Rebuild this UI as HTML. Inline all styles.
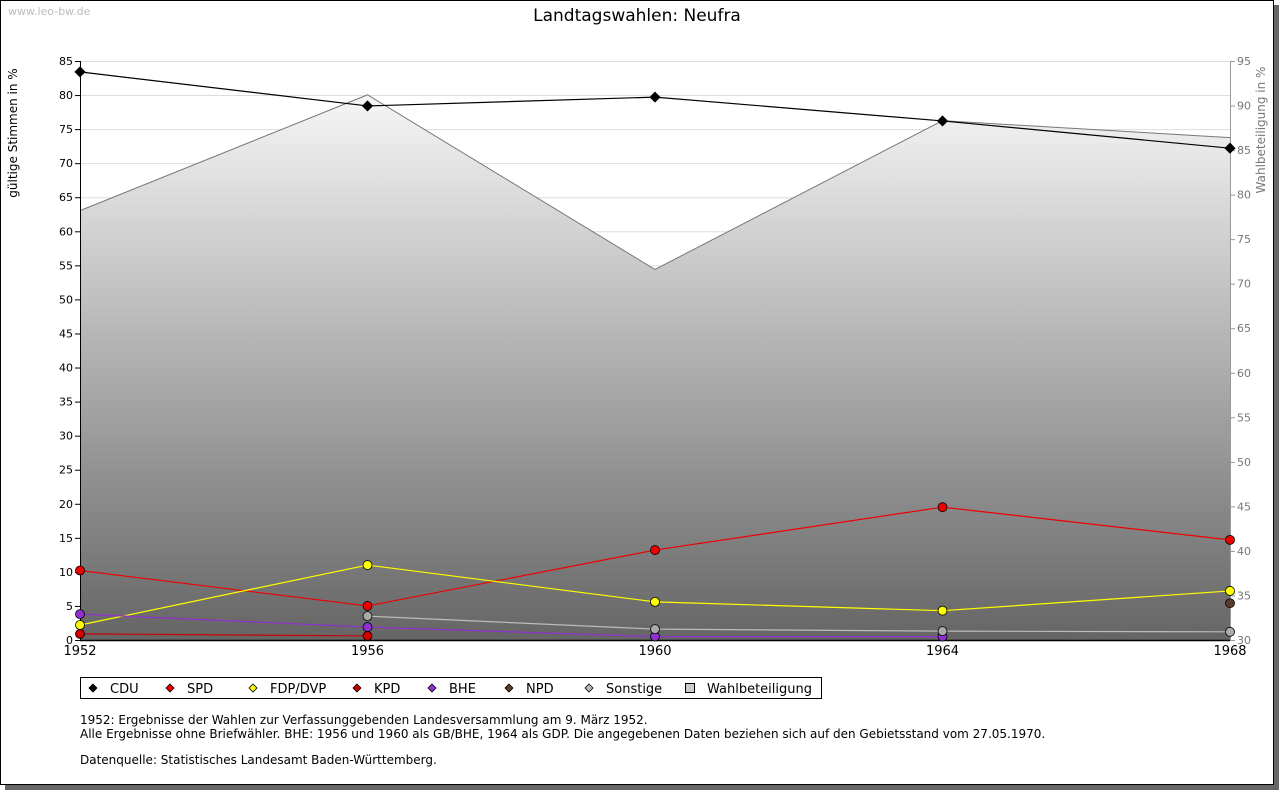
<!DOCTYPE html>
<html><head><meta charset="utf-8"><style>
body{margin:0;background:#fff;width:1280px;height:791px;overflow:hidden;font-family:"Liberation Sans","DejaVu Sans",sans-serif}
</style></head><body>
<svg id="c" width="1280" height="791" xmlns="http://www.w3.org/2000/svg" font-family="DejaVu Sans, Liberation Sans, sans-serif">
<defs><linearGradient id="g" x1="0" y1="61" x2="0" y2="640" gradientUnits="userSpaceOnUse"><stop offset="0" stop-color="#ffffff"/><stop offset="1" stop-color="#656565"/></linearGradient></defs>
<rect x="5" y="5" width="1274" height="785" fill="#666"/>
<rect x="0.5" y="0.5" width="1273" height="784" fill="#fff" stroke="#000"/>
<text x="8" y="15" font-size="11" fill="#bbb">www.leo-bw.de</text>
<text x="637" y="21" font-size="17" text-anchor="middle">Landtagswahlen: Neufra</text>
<text transform="translate(17,133) rotate(-90)" font-size="12" text-anchor="middle">gültige Stimmen in %</text>
<text transform="translate(1265,130) rotate(-90)" font-size="12" fill="#777" text-anchor="middle">Wahlbeteiligung in %</text>
<g id="grid"></g><g id="area"></g><g id="axes"></g><g id="series"></g>
<g><rect x="80.5" y="677.5" width="741" height="21" fill="#fff" stroke="#000"/><g id="leg"></g></g>
<g font-size="12">
<text x="80" y="724">1952: Ergebnisse der Wahlen zur Verfassunggebenden Landesversammlung am 9. März 1952.</text>
<text x="80" y="738">Alle Ergebnisse ohne Briefwähler. BHE: 1956 und 1960 als GB/BHE, 1964 als GDP. Die angegebenen Daten beziehen sich auf den Gebietsstand vom 27.05.1970.</text>
<text x="80" y="764">Datenquelle: Statistisches Landesamt Baden-Württemberg.</text>
</g>
</svg>
<script>
const years=[1952,1956,1960,1964,1968];
const cdu=[83.4,78.4,79.7,76.2,72.2];
const spd=[10.2,5.0,13.2,19.5,14.7];
const fdp=[2.2,11.0,5.6,4.3,7.2];
const kpd=[0.9,0.6,null,null,null];
const bhe=[3.8,1.9,0.5,0.5,null];
const npd=[null,null,null,null,5.4];
const sonstige=[null,3.5,1.6,1.3,1.2];
const turnout=[78.2,91.2,71.6,88.3,86.4];
const leftTicks=[0,5,10,15,20,25,30,35,40,45,50,55,60,65,70,75,80,85];
const rightTicks=[30,35,40,45,50,55,60,65,70,75,80,85,90,95];
const NS='http://www.w3.org/2000/svg';
const X0=80,X1=1230,Y0=640,Y1=61;
const x=v=>X0+(v-1952)/(1968-1952)*(X1-X0);
const y=v=>Y0-v/85*(Y0-Y1);
const y2=v=>Y0-(v-30)/65*(Y0-Y1);
function el(p,t,a){const e=document.createElementNS(NS,t);for(const k in a)e.setAttribute(k,a[k]);p.appendChild(e);return e;}
const G=document.getElementById('grid'),A=document.getElementById('area'),AX=document.getElementById('axes'),S=document.getElementById('series'),L=document.getElementById('leg');
leftTicks.forEach(t=>{if(t>0){const l=el(G,'line',{x1:X0,x2:X1,y1:y(t)+.5,y2:y(t)+.5,stroke:'#ddd'});

}
el(AX,'line',{x1:X0-5,x2:X0,y1:y(t)+.5,y2:y(t)+.5,stroke:'#000'});
const tx=el(AX,'text',{x:X0-7,y:y(t)+4,'font-size':11,'text-anchor':'end'});tx.textContent=t;

});
rightTicks.forEach(t=>{el(AX,'line',{x1:X1,x2:X1+5,y1:y2(t)+.5,y2:y2(t)+.5,stroke:'#999'});
const tx=el(AX,'text',{x:X1+7,y:y2(t)+4,'font-size':11,fill:'#777'});tx.textContent=t;

});
let pts=turnout.map((v,i)=>x(years[i])+','+y2(v)).join(' ');
const poly=el(A,'polygon',{points:X0+','+Y0+' '+pts+' '+X1+','+Y0,fill:'url(#g)'});


el(A,'polyline',{points:pts,fill:'none',stroke:'#777'});
el(AX,'line',{x1:X0+.5,x2:X0+.5,y1:Y1,y2:Y0,stroke:'#000'});
el(AX,'line',{x1:X1+.5,x2:X1+.5,y1:Y1,y2:Y0,stroke:'#999'});
el(AX,'line',{x1:X0,x2:X1,y1:Y0+.5,y2:Y0+.5,stroke:'#000',
'stroke-width':1.5});
years.forEach(yr=>{const tx=el(AX,'text',{x:x(yr),y:Y0+15,'font-size':13,'text-anchor':'middle'});tx.textContent=yr;

});
const series=[['CDU',cdu,'#000','#000'],['SPD',spd,'#e00','#e00'],['FDP/DVP',fdp,'#ff0','#ff0'],['KPD',kpd,'#c00','#c00'],['BHE',bhe,'#9030d0','#9030d0'],['NPD',npd,'#5a3a28','#5a3a28'],['Sonstige',sonstige,'#bbb','#aaa']];
function dia(p,cx,cy,f,r){return el(p,'polygon',{points:`${cx},${cy-r} ${cx+r},${cy} ${cx},${cy+r} ${cx-r},${cy}`,fill:f,stroke:'#000','stroke-width':.8});}
series.forEach(([n,d,c,f])=>{const g=el(S,'g',{});


const p=[];d.forEach((v,i)=>{if(v!=null)p.push(x(years[i])+','+y(v));});
el(g,'polyline',{points:p.join(' '),fill:'none',stroke:c,'stroke-width':1.2});
d.forEach((v,i)=>{if(v==null)return;const m=n=='CDU'?dia(g,x(years[i]),y(v),f,5):el(g,'circle',{cx:x(years[i]),cy:y(v),r:4.5,fill:f,stroke:'#000','stroke-width':.8});

});});
const lx=[93,170,253,357,432,509,589,690];
const labs=['CDU','SPD','FDP/DVP','KPD','BHE','NPD','Sonstige','Wahlbeteiligung'];
const lc=['#000','#e00','#ff0','#c00','#9030d0','#5a3a28','#bbb','#ccc'];
labs.forEach((t,i)=>{if(i<7)dia(L,lx[i],688,lc[i],4);else el(L,'rect',{x:lx[i]-4.5,y:683.5,width:9,height:9,fill:'#ccc',stroke:'#000'});
const tx=el(L,'text',{x:lx[i]+17,y:693,'font-size':13});tx.textContent=t;

});
</script>
</body></html>
